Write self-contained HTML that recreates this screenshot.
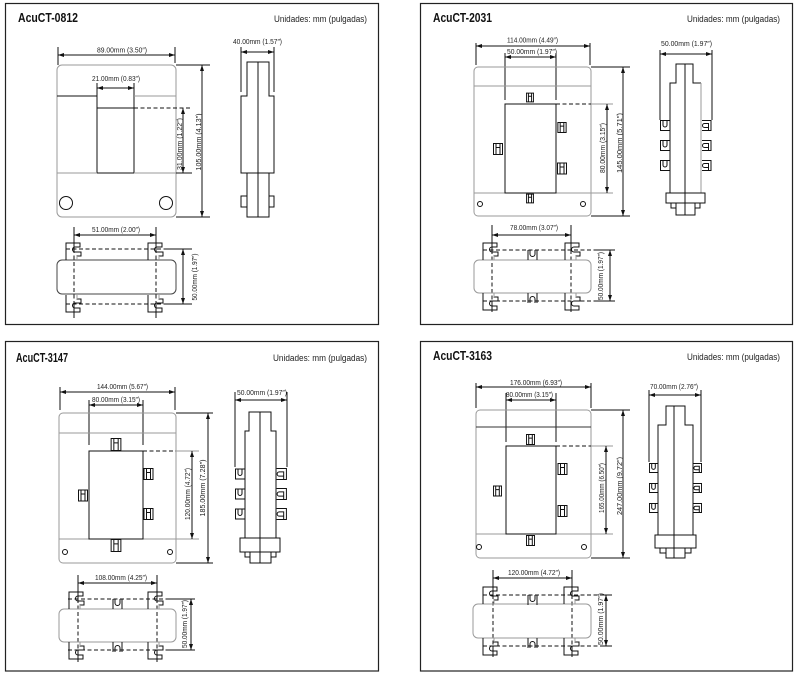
<!DOCTYPE html>
<html><head><meta charset="utf-8"><style>
html,body{margin:0;padding:0;background:#fff;width:800px;height:680px;overflow:hidden}
svg{display:block}
.k{stroke:#111;fill:none;stroke-width:1}
.g{stroke:#9a9a9a;fill:none;stroke-width:1}
.d{stroke:#111;fill:none;stroke-width:1;stroke-dasharray:4 2.5}
.t{font-family:"Liberation Sans",sans-serif;font-size:7px;fill:#222}
.ti{font-family:"Liberation Sans",sans-serif;font-size:12.5px;font-weight:bold;fill:#111}
.u{font-family:"Liberation Sans",sans-serif;font-size:9px;fill:#222}
.b{stroke:#222;fill:none;stroke-width:1.2}
</style></head><body>
<svg width="800" height="680" viewBox="0 0 800 680" xmlns="http://www.w3.org/2000/svg">
<defs>
<marker id="a" viewBox="0 0 6 4" refX="6" refY="2" markerWidth="6" markerHeight="4" markerUnits="userSpaceOnUse" orient="auto-start-reverse"><path d="M0,0 L6,2 L0,4z" fill="#111"/></marker>
<symbol id="c" overflow="visible"><path class="k" d="M0,17 V0 H14 V4 H9 A2.5,2.5 0 0 0 9,9 H15 V13 H11 V17"/><path class="g" d="M11,13 V17"/></symbol>
<symbol id="h" viewBox="0 0 10 12"><path class="k" vector-effect="non-scaling-stroke" d="M0.5,0.5 H9.5 V11.5 H0.5 Z M3,0.5 V11.5 M7,0.5 V11.5 M3,4.5 H7"/></symbol>
<symbol id="ul" viewBox="0 0 10 11"><path class="k" vector-effect="non-scaling-stroke" d="M9.5,0.5 H0.5 V10.5 H9.5 M3,0.5 V5 A2,2 0 0 0 7,5 V0.5"/></symbol>
<symbol id="ur" viewBox="0 0 10 11"><path class="k" vector-effect="non-scaling-stroke" d="M0.5,0.5 H9.5 V10.5 H0.5 M7,10.5 V3.5 H3 A2,2 0 0 0 3,7.5 H7"/></symbol>
<symbol id="m" overflow="visible"><path class="k" d="M0,0 V10 M9,0 V10 M2,0 V4 A2.5,2.5 0 0 0 7,4 V0"/></symbol>
</defs>

<!-- panel borders -->
<rect class="b" x="5.5" y="3.5" width="373" height="321"/>
<rect class="b" x="420.5" y="3.5" width="372" height="321"/>
<rect class="b" x="5.5" y="341.5" width="373" height="329.5"/>
<rect class="b" x="420.5" y="341.5" width="372" height="329.5"/>

<!-- ============ PANEL 1 ============ -->
<text class="ti" x="18" y="22" textLength="60" lengthAdjust="spacingAndGlyphs">AcuCT-0812</text>
<text class="u" x="274" y="22" textLength="93" lengthAdjust="spacingAndGlyphs">Unidades: mm (pulgadas)</text>
<!-- front -->
<text class="t" x="97" y="52.5" textLength="50" lengthAdjust="spacingAndGlyphs">89.00mm (3.50″)</text>
<path class="k" d="M58,47 V65 M175,47 V63"/>
<line class="k" x1="58" y1="55" x2="175" y2="55" marker-start="url(#a)" marker-end="url(#a)"/>
<rect class="g" x="57" y="65" width="119" height="152" rx="5"/>
<path class="k" d="M57,96 H97 M97,83 V173 M134,83 V173 M97,108 H134 M176,173 H192 M97,173 H134"/>
<path class="g" d="M134,96 H176 M57,173 H97 M134,173 H176"/>
<path class="d" d="M134,108 H192"/>
<text class="t" x="92" y="81" textLength="48" lengthAdjust="spacingAndGlyphs">21.00mm (0.83″)</text>
<line class="k" x1="97" y1="88" x2="134" y2="88" marker-start="url(#a)" marker-end="url(#a)"/>
<line class="k" x1="183" y1="108" x2="183" y2="173" marker-start="url(#a)" marker-end="url(#a)"/>
<text class="t" transform="translate(182,144) rotate(-90)" text-anchor="middle" textLength="52" lengthAdjust="spacingAndGlyphs">31.00mm (1.22″)</text>
<path class="k" d="M176,65 H210 M176,217 H210"/>
<line class="k" x1="202" y1="65" x2="202" y2="217" marker-start="url(#a)" marker-end="url(#a)"/>
<text class="t" transform="translate(201,142) rotate(-90)" text-anchor="middle" textLength="57" lengthAdjust="spacingAndGlyphs">105.00mm (4.13″)</text>
<circle class="k" cx="66" cy="203" r="6.5"/>
<circle class="k" cx="166" cy="203" r="6.5"/>
<!-- side -->
<text class="t" x="233" y="44" textLength="49" lengthAdjust="spacingAndGlyphs">40.00mm (1.57″)</text>
<path class="k" d="M241,47 V92 M274,47 V92"/>
<line class="k" x1="241" y1="52" x2="274" y2="52" marker-start="url(#a)" marker-end="url(#a)"/>
<path class="k" d="M247,62 H269 V96 H274 V173 H241 V96 H247 Z"/>
<rect class="k" x="247" y="173" width="22" height="44"/>
<rect class="k" x="241" y="196" width="6" height="11"/>
<rect class="k" x="269" y="196" width="5" height="11"/>
<path class="k" d="M258,62 V217"/>
<!-- bottom -->
<text class="t" x="92" y="232" textLength="48" lengthAdjust="spacingAndGlyphs">51.00mm (2.00″)</text>
<path class="k" d="M74,227 V249 M74,304 V318 M156,227 V249 M156,304 V318"/>
<path class="d" d="M74,249 V304 M156,249 V304"/>
<line class="k" x1="74" y1="235" x2="156" y2="235" marker-start="url(#a)" marker-end="url(#a)"/>
<rect class="k" x="57" y="260" width="119" height="34" rx="5" style="stroke:#444"/>
<path class="d" d="M66,249 H167 M66,304 H167"/>
<path class="k" d="M167,249 H192 M167,304 H192"/>
<line class="k" x1="183" y1="249" x2="183" y2="304" marker-start="url(#a)" marker-end="url(#a)"/>
<text class="t" transform="translate(197,277) rotate(-90)" text-anchor="middle" textLength="47" lengthAdjust="spacingAndGlyphs">50.00mm (1.97″)</text>
<use href="#c" x="66" y="243"/>
<use href="#c" x="148" y="243"/>
<g transform="translate(66,312) scale(1,-1)"><use href="#c"/></g>
<g transform="translate(148,312) scale(1,-1)"><use href="#c"/></g>

<!-- ============ PANEL 2 ============ -->
<text class="ti" x="433" y="22" textLength="59" lengthAdjust="spacingAndGlyphs">AcuCT-2031</text>
<text class="u" x="687" y="22" textLength="93" lengthAdjust="spacingAndGlyphs">Unidades: mm (pulgadas)</text>
<!-- front -->
<path class="k" d="M476,43 V65 M590,43 V65 M505,53 V100 M556,53 V100"/>
<line class="k" x1="476" y1="46" x2="590" y2="46" marker-start="url(#a)" marker-end="url(#a)"/>
<text class="t" x="507" y="42.5" textLength="51" lengthAdjust="spacingAndGlyphs">114.00mm (4.49″)</text>
<line class="k" x1="505" y1="57" x2="556" y2="57" marker-start="url(#a)" marker-end="url(#a)"/>
<text class="t" x="507" y="54" textLength="50" lengthAdjust="spacingAndGlyphs">50.00mm (1.97″)</text>
<rect class="g" x="474" y="67" width="117" height="149" rx="4"/>
<path class="g" d="M474,86 H591 M474,193 H613 M591,104 H613"/>
<rect class="k" x="505" y="104" width="51" height="89" fill="#fff" style="fill:#fff"/>
<path class="d" d="M556,104 H591"/>
<line class="k" x1="607" y1="104" x2="607" y2="193" marker-start="url(#a)" marker-end="url(#a)"/>
<text class="t" transform="translate(605,148) rotate(-90)" text-anchor="middle" textLength="50" lengthAdjust="spacingAndGlyphs">80.00mm (3.15″)</text>
<path class="k" d="M591,67 H630 M591,216 H630"/>
<line class="k" x1="623" y1="67" x2="623" y2="216" marker-start="url(#a)" marker-end="url(#a)"/>
<text class="t" transform="translate(622,143) rotate(-90)" text-anchor="middle" textLength="60" lengthAdjust="spacingAndGlyphs">145.00mm (5.71″)</text>
<circle class="k" cx="480" cy="204" r="2.5"/>
<circle class="k" cx="583" cy="204" r="2.5"/>
<use href="#h" x="526" y="92" width="8" height="11" preserveAspectRatio="none"/>
<use href="#h" x="526" y="193" width="8" height="11" preserveAspectRatio="none"/>
<use href="#h" x="493" y="143" width="10" height="12" preserveAspectRatio="none"/>
<use href="#h" x="557" y="122" width="10" height="11" preserveAspectRatio="none"/>
<use href="#h" x="557" y="162" width="10" height="13" preserveAspectRatio="none"/>
<!-- side -->
<text class="t" x="661" y="46" textLength="51" lengthAdjust="spacingAndGlyphs">50.00mm (1.97″)</text>
<path class="k" d="M660,50 V120 M712,50 V120"/>
<line class="k" x1="660" y1="54" x2="712" y2="54" marker-start="url(#a)" marker-end="url(#a)"/>
<path class="k" d="M670,193 V83 H676 V64 H693 V83 H701"/>
<path class="g" d="M701,83 V193"/>
<rect class="k" x="666" y="193" width="39" height="10"/>
<rect class="k" x="676" y="203" width="19" height="12"/>
<path class="k" d="M671,203 V208 H676 M700,203 V208 H695"/>
<path class="k" d="M685,64 V215"/>
<use href="#ul" x="660" y="120" width="10" height="11"/>
<use href="#ul" x="660" y="140" width="10" height="11"/>
<use href="#ul" x="660" y="160" width="10" height="11"/>
<use href="#ur" x="701" y="120" width="11" height="11" preserveAspectRatio="none"/>
<use href="#ur" x="701" y="140" width="11" height="11" preserveAspectRatio="none"/>
<use href="#ur" x="701" y="160" width="11" height="11" preserveAspectRatio="none"/>
<!-- bottom -->
<text class="t" x="510" y="230" textLength="48" lengthAdjust="spacingAndGlyphs">78.00mm (3.07″)</text>
<path class="k" d="M492,225 V250 M492,301 V312 M571,225 V250 M571,301 V312"/>
<path class="d" d="M492,250 V301 M571,250 V301"/>
<line class="k" x1="492" y1="235" x2="571" y2="235" marker-start="url(#a)" marker-end="url(#a)"/>
<rect class="g" x="474" y="260" width="117" height="33" rx="5"/>
<path class="d" d="M483,250 H595 M483,301 H595"/>
<path class="k" d="M595,250 H615 M595,301 H615"/>
<line class="k" x1="610" y1="250" x2="610" y2="301" marker-start="url(#a)" marker-end="url(#a)"/>
<text class="t" transform="translate(603,276) rotate(-90)" text-anchor="middle" textLength="48" lengthAdjust="spacingAndGlyphs">50.00mm (1.97″)</text>
<use href="#c" x="483" y="243"/>
<use href="#c" x="565" y="243"/>
<g transform="translate(483,310) scale(1,-1)"><use href="#c"/></g>
<g transform="translate(565,310) scale(1,-1)"><use href="#c"/></g>
<use href="#m" x="528" y="250"/>
<g transform="translate(528,303) scale(1,-1)"><use href="#m"/></g>

<!-- ============ PANEL 3 ============ -->
<text class="ti" x="16" y="362" textLength="52" lengthAdjust="spacingAndGlyphs">AcuCT-3147</text>
<text class="u" x="273" y="361" textLength="94" lengthAdjust="spacingAndGlyphs">Unidades: mm (pulgadas)</text>
<!-- front -->
<path class="k" d="M60,387 V410 M175,387 V410 M89,400 V445 M143,400 V445"/>
<line class="k" x1="60" y1="392" x2="175" y2="392" marker-start="url(#a)" marker-end="url(#a)"/>
<text class="t" x="97" y="389" textLength="51" lengthAdjust="spacingAndGlyphs">144.00mm (5.67″)</text>
<line class="k" x1="89" y1="405" x2="143" y2="405" marker-start="url(#a)" marker-end="url(#a)"/>
<text class="t" x="92" y="402" textLength="48" lengthAdjust="spacingAndGlyphs">80.00mm (3.15″)</text>
<rect class="g" x="59" y="413" width="117" height="150" rx="4"/>
<path class="g" d="M59,433 H176 M59,539 H199 M176,451 H199"/>
<rect class="k" x="89" y="451" width="54" height="88"/>
<path class="d" d="M143,451 H176"/>
<line class="k" x1="192" y1="451" x2="192" y2="539" marker-start="url(#a)" marker-end="url(#a)"/>
<text class="t" transform="translate(190,494) rotate(-90)" text-anchor="middle" textLength="52" lengthAdjust="spacingAndGlyphs">120.00mm (4.72″)</text>
<path class="k" d="M176,413 H213 M176,563 H213"/>
<line class="k" x1="208" y1="413" x2="208" y2="563" marker-start="url(#a)" marker-end="url(#a)"/>
<text class="t" transform="translate(205,488) rotate(-90)" text-anchor="middle" textLength="57" lengthAdjust="spacingAndGlyphs">185.00mm (7.28″)</text>
<circle class="k" cx="65" cy="552" r="2.5"/>
<circle class="k" cx="170" cy="552" r="2.5"/>
<use href="#h" x="110" y="438" width="12" height="13" preserveAspectRatio="none"/>
<use href="#h" x="110" y="539" width="12" height="13" preserveAspectRatio="none"/>
<use href="#h" x="78" y="489" width="10" height="13" preserveAspectRatio="none"/>
<use href="#h" x="143" y="468" width="11" height="12" preserveAspectRatio="none"/>
<use href="#h" x="143" y="508" width="11" height="12" preserveAspectRatio="none"/>
<!-- side -->
<text class="t" x="237" y="395" textLength="50" lengthAdjust="spacingAndGlyphs">50.00mm (1.97″)</text>
<path class="k" d="M235,392 V467 M287,392 V467"/>
<line class="k" x1="235" y1="400" x2="287" y2="400" marker-start="url(#a)" marker-end="url(#a)"/>
<path class="k" d="M245,538 V431 H249 V412 H271 V431 H276 V538"/>
<rect class="k" x="240" y="538" width="40" height="14"/>
<rect class="k" x="250" y="552" width="21" height="11"/>
<path class="k" d="M245,552 V557 H250 M276,552 V557 H271"/>
<path class="k" d="M260,412 V563"/>
<use href="#ul" x="235" y="468" width="10" height="12" preserveAspectRatio="none"/>
<use href="#ul" x="235" y="488" width="10" height="12" preserveAspectRatio="none"/>
<use href="#ul" x="235" y="508" width="10" height="12" preserveAspectRatio="none"/>
<use href="#ur" x="276" y="468" width="11" height="12" preserveAspectRatio="none"/>
<use href="#ur" x="276" y="488" width="11" height="12" preserveAspectRatio="none"/>
<use href="#ur" x="276" y="508" width="11" height="12" preserveAspectRatio="none"/>
<!-- bottom -->
<text class="t" x="95" y="580" textLength="52" lengthAdjust="spacingAndGlyphs">108.00mm (4.25″)</text>
<path class="k" d="M78,575 V599 M78,650 V662 M157,575 V599 M157,650 V662"/>
<path class="d" d="M78,599 V650 M157,599 V650"/>
<line class="k" x1="78" y1="583" x2="157" y2="583" marker-start="url(#a)" marker-end="url(#a)"/>
<rect class="g" x="59" y="609" width="117" height="33" rx="5"/>
<path class="d" d="M68,599 H167 M68,650 H167"/>
<path class="k" d="M167,599 H195 M167,650 H195"/>
<line class="k" x1="191" y1="599" x2="191" y2="650" marker-start="url(#a)" marker-end="url(#a)"/>
<text class="t" transform="translate(187,624) rotate(-90)" text-anchor="middle" textLength="48" lengthAdjust="spacingAndGlyphs">50.00mm (1.97″)</text>
<use href="#c" x="69" y="592"/>
<use href="#c" x="148" y="592"/>
<g transform="translate(69,659) scale(1,-1)"><use href="#c"/></g>
<g transform="translate(148,659) scale(1,-1)"><use href="#c"/></g>
<use href="#m" x="113" y="599"/>
<g transform="translate(113,652) scale(1,-1)"><use href="#m"/></g>

<!-- ============ PANEL 4 ============ -->
<text class="ti" x="433" y="360" textLength="59" lengthAdjust="spacingAndGlyphs">AcuCT-3163</text>
<text class="u" x="687" y="360" textLength="93" lengthAdjust="spacingAndGlyphs">Unidades: mm (pulgadas)</text>
<!-- front -->
<path class="k" d="M476,383 V408 M591,383 V408 M506,393 V442 M556,393 V442"/>
<line class="k" x1="476" y1="387" x2="591" y2="387" marker-start="url(#a)" marker-end="url(#a)"/>
<text class="t" x="510" y="385" textLength="52" lengthAdjust="spacingAndGlyphs">176.00mm (6.93″)</text>
<line class="k" x1="506" y1="400" x2="556" y2="400" marker-start="url(#a)" marker-end="url(#a)"/>
<text class="t" x="506" y="397" textLength="47" lengthAdjust="spacingAndGlyphs">80.00mm (3.15″)</text>
<rect class="g" x="476" y="410" width="115" height="148" rx="4"/>
<path class="k" d="M476,427 H591" style="stroke:#333"/>
<path class="g" d="M476,534 H613 M591,446 H613"/>
<rect class="k" x="506" y="446" width="50" height="88"/>
<path class="d" d="M556,446 H591"/>
<line class="k" x1="606" y1="446" x2="606" y2="534" marker-start="url(#a)" marker-end="url(#a)"/>
<text class="t" transform="translate(604,488) rotate(-90)" text-anchor="middle" textLength="50" lengthAdjust="spacingAndGlyphs">165.00mm (6.50″)</text>
<path class="k" d="M591,410 H630 M591,558 H630"/>
<line class="k" x1="623" y1="410" x2="623" y2="558" marker-start="url(#a)" marker-end="url(#a)"/>
<text class="t" transform="translate(622,486) rotate(-90)" text-anchor="middle" textLength="58" lengthAdjust="spacingAndGlyphs">247.00mm (9.72″)</text>
<circle class="k" cx="479" cy="547" r="2.5"/>
<circle class="k" cx="584" cy="547" r="2.5"/>
<use href="#h" x="526" y="433" width="9" height="13" preserveAspectRatio="none"/>
<use href="#h" x="526" y="534" width="9" height="13" preserveAspectRatio="none"/>
<use href="#h" x="493" y="485" width="9" height="12" preserveAspectRatio="none"/>
<use href="#h" x="557" y="463" width="11" height="12" preserveAspectRatio="none"/>
<use href="#h" x="557" y="505" width="11" height="12" preserveAspectRatio="none"/>
<!-- side -->
<text class="t" x="650" y="389" textLength="48" lengthAdjust="spacingAndGlyphs">70.00mm (2.76″)</text>
<path class="k" d="M649,390 V462 M701,390 V462"/>
<line class="k" x1="649" y1="395" x2="701" y2="395" marker-start="url(#a)" marker-end="url(#a)"/>
<path class="k" d="M658,535 V425 H666 V406 H685 V425 H693 V535"/>
<rect class="k" x="655" y="535" width="41" height="13"/>
<rect class="k" x="666" y="548" width="19" height="10"/>
<path class="k" d="M660,548 V553 H666 M691,548 V553 H685"/>
<path class="k" d="M674,406 V558"/>
<use href="#ul" x="649" y="462" width="9" height="12" preserveAspectRatio="none"/>
<use href="#ul" x="649" y="482" width="9" height="12" preserveAspectRatio="none"/>
<use href="#ul" x="649" y="502" width="9" height="12" preserveAspectRatio="none"/>
<use href="#ur" x="693" y="462" width="9" height="12" preserveAspectRatio="none"/>
<use href="#ur" x="693" y="482" width="9" height="12" preserveAspectRatio="none"/>
<use href="#ur" x="693" y="502" width="9" height="12" preserveAspectRatio="none"/>
<!-- bottom -->
<text class="t" x="508" y="575" textLength="52" lengthAdjust="spacingAndGlyphs">120.00mm (4.72″)</text>
<path class="k" d="M493,570 V595 M493,646 V657 M572,570 V595 M572,646 V657"/>
<path class="d" d="M493,595 V646 M572,595 V646"/>
<line class="k" x1="493" y1="578" x2="572" y2="578" marker-start="url(#a)" marker-end="url(#a)"/>
<rect class="g" x="473" y="604" width="118" height="34" rx="5"/>
<path class="d" d="M483,595 H608 M483,646 H608"/>
<path class="k" d="M600,595 H612 M600,646 H612"/>
<line class="k" x1="606" y1="595" x2="606" y2="646" marker-start="url(#a)" marker-end="url(#a)"/>
<text class="t" transform="translate(603,619) rotate(-90)" text-anchor="middle" textLength="52" lengthAdjust="spacingAndGlyphs">50.00mm (1.97″)</text>
<use href="#c" x="483" y="587"/>
<use href="#c" x="564" y="587"/>
<g transform="translate(483,655) scale(1,-1)"><use href="#c"/></g>
<g transform="translate(564,655) scale(1,-1)"><use href="#c"/></g>
<use href="#m" x="528" y="595"/>
<g transform="translate(528,648) scale(1,-1)"><use href="#m"/></g>
</svg>
</body></html>
